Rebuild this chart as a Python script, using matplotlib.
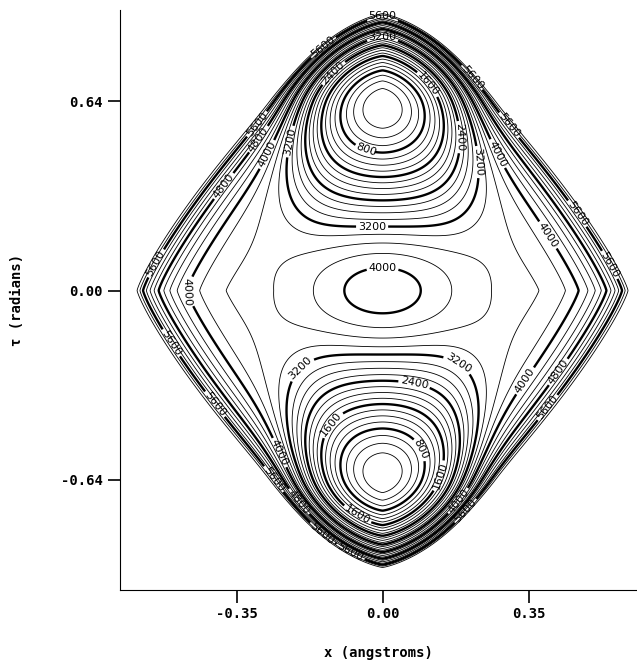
import numpy as np
import matplotlib
matplotlib.use("Agg")
import matplotlib.pyplot as plt

# potential surface parameters (cm-1, angstrom, radians)
tau_well = 0.64          # minima at x = 0, tau = +-0.64
barrier = 4290.0         # hump at the origin (before shifting the minimum to 0)
hump_drop = 650.0        # hump above the ring valley at tau = 0
hump_width = 0.20
k_x = 55600.0            # curvature across the well
plateau_x = 3450.0
k_out = 40000.0
wall_height = 3440.0
wall_power = 7
wall_a, wall_b, wall_p = 0.615, 0.97, 1.2

levels = np.arange(200, 6001, 200)
bold_levels = [800, 1600, 2400, 3200, 4000, 4800, 5600]
thin_levels = [l for l in levels if l not in bold_levels]

xticks = [-0.35, 0.0, 0.35]
yticks = [-0.64, 0.0, 0.64]

# where the contour labels sit in the picture
label_pos = [
    (0.0, 0.924), (0.0, 0.863), (-0.15, 0.836), (0.227, 0.735), (-0.118, 0.735),
    (0.097, 0.684), (0.325, 0.583), (0.178, 0.518), (0.226, 0.434), (0.282, 0.467),
    (0.455, 0.248), (0.414, 0.204), (0.565, 0.103),
    (-0.313, 0.576), (-0.294, 0.508), (-0.265, 0.451), (-0.21, 0.50), (-0.037, 0.48),
    (-0.39, 0.363), (-0.025, 0.197), (-0.557, 0.103), (-0.474, -0.005), (0.0, 0.04),
    (-0.51, -0.18), (-0.215, -0.235), (0.186, -0.235), (0.073, -0.336), (-0.133, -0.44),
    (-0.234, -0.539), (0.073, -0.55), (0.145, -0.63), (-0.061, -0.758), (-0.205, -0.718),
    (-0.287, -0.664), (-0.42, -0.404), (-0.174, -0.87), (-0.085, -0.904), (0.179, -0.708),
    (0.202, -0.748), (0.35, -0.313), (0.426, -0.28), (0.397, -0.397),
]

x = np.linspace(-0.66, 0.66, 600)
t = np.linspace(-1.05, 1.05, 900)
X, T = np.meshgrid(x, t)

u = (T / tau_well) ** 2
g = (1 - u) ** 2
inside = np.abs(T) < tau_well
Tpart = np.where(inside, barrier * g, k_out * (np.abs(T) - tau_well) ** 2)
w = np.where(inside, 1 - g, 1.0)
gx = np.where(inside, g, 0.0)
h = k_x * X ** 2
fx = h / (1 + (h / plateau_x) ** 4) ** 0.25
Xpart = w * fx - gx * hump_drop * (1 - np.exp(-(X / hump_width) ** 2))
r = ((np.abs(X) / wall_a) ** wall_p + (np.abs(T) / wall_b) ** wall_p) ** (1 / wall_p)
V = Tpart + Xpart + wall_height * r ** wall_power
V = V - V.min()

fig = plt.figure(figsize=(6.37, 6.63), dpi=100)
ax = fig.add_axes([0.188, 0.110, 0.812, 0.875])

ax.contour(X, T, V, levels=thin_levels, colors="black", linewidths=0.6)
cb = ax.contour(X, T, V, levels=bold_levels, colors="black", linewidths=1.7)
ax.clabel(cb, fmt="%d", fontsize=8, inline=True, inline_spacing=1, manual=label_pos)

ax.set_xlim(-0.63, 0.61)
ax.set_ylim(-1.012, 0.948)
ax.spines["top"].set_visible(False)
ax.spines["right"].set_visible(False)
ax.set_xticks(xticks)
ax.set_yticks(yticks)
ax.set_xticklabels(["%.2f" % v for v in xticks])
ax.set_yticklabels(["%.2f" % v for v in yticks])
ax.tick_params(direction="out", length=9, width=1.2)
for lab in ax.get_xticklabels() + ax.get_yticklabels():
    lab.set_family("DejaVu Sans Mono")
    lab.set_weight("bold")
    lab.set_fontsize(10)
ax.set_xlabel("x (angstroms)", family="DejaVu Sans Mono", weight="bold", fontsize=10, labelpad=18)
ax.set_ylabel("τ (radians)", family="DejaVu Sans Mono", weight="bold", fontsize=10, labelpad=26)

fig.savefig("out.png", dpi=100)
